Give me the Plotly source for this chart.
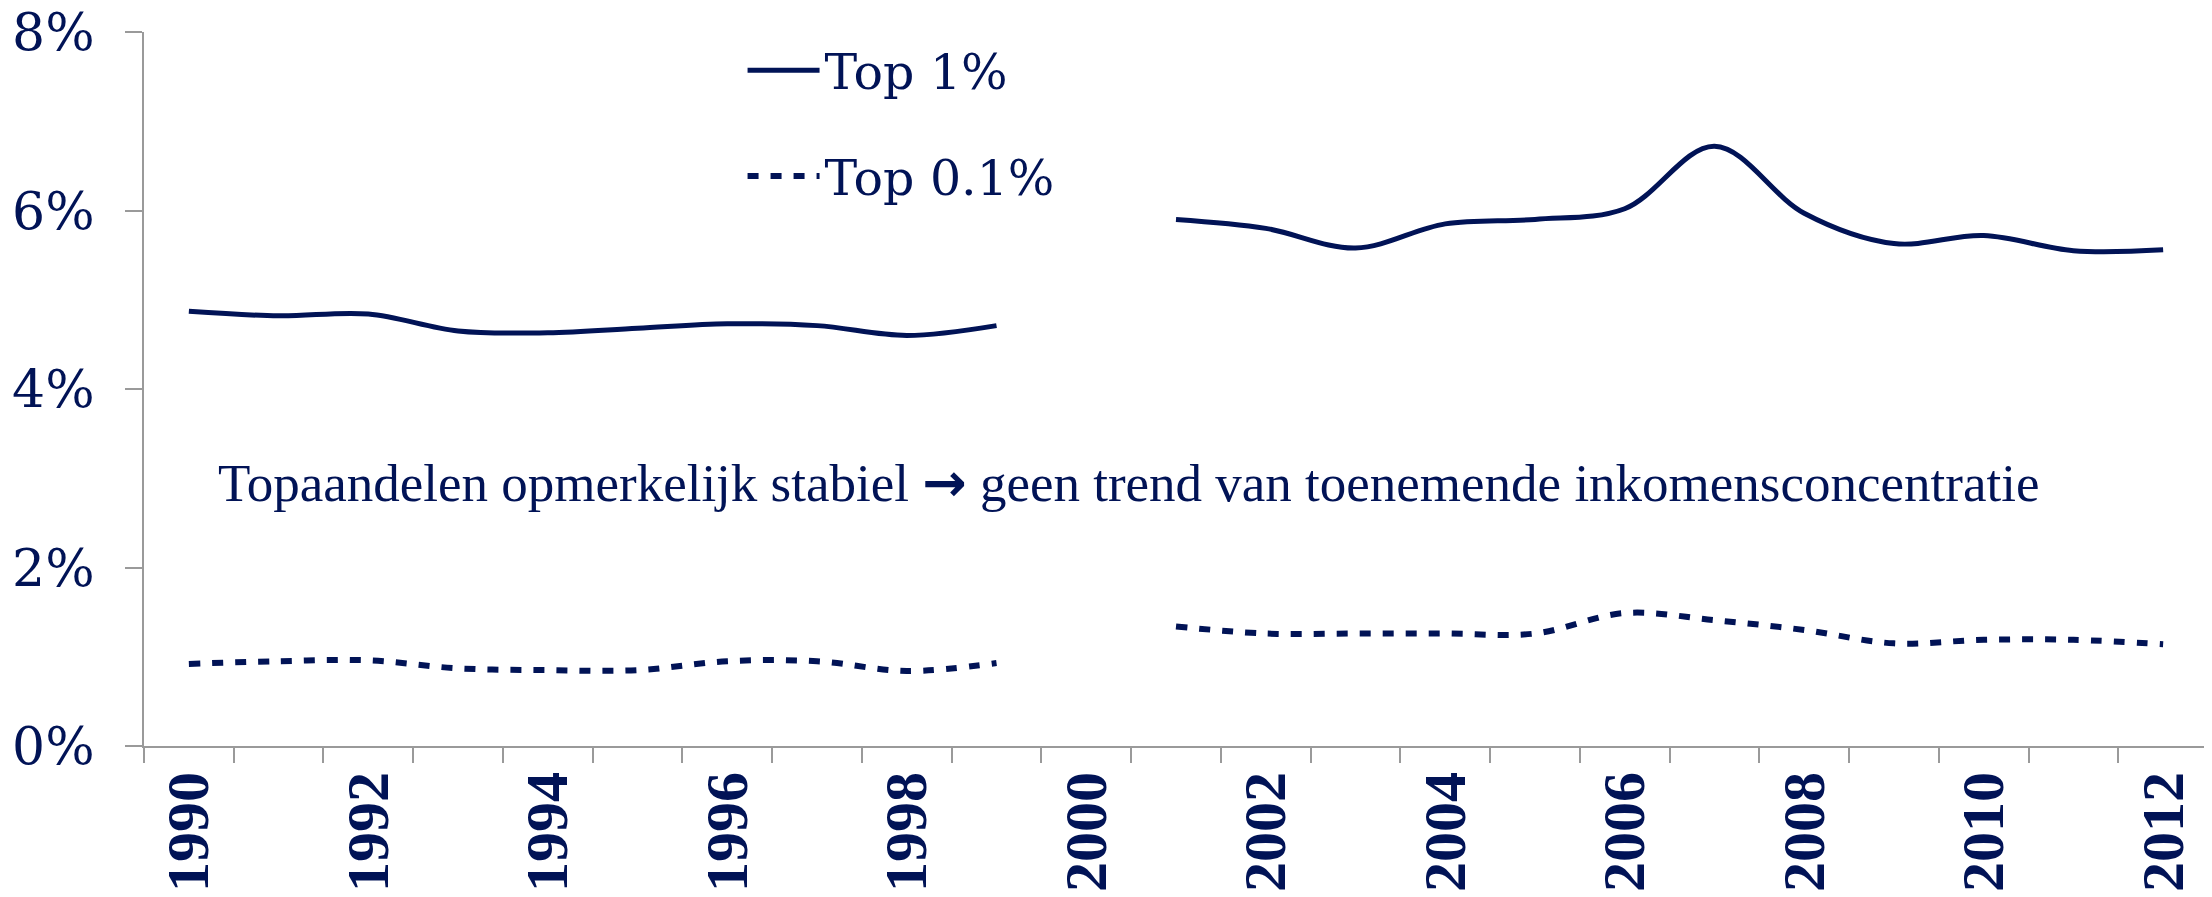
import plotly.graph_objects as go

# ── Data ───────────────────────────────────────────────
years = list(range(1990, 2013))
top1 = [4.87, 4.82, 4.84, 4.65, 4.63, 4.68, 4.73, 4.71, 4.60, 4.71, None,
        5.90, 5.80, 5.58, 5.85, 5.90, 6.02, 6.72, 5.97, 5.63, 5.72, 5.55, 5.56]
top01 = [0.92, 0.95, 0.96, 0.87, 0.85, 0.85, 0.95, 0.95, 0.84, 0.93, None,
         1.34, 1.26, 1.26, 1.26, 1.26, 1.49, 1.41, 1.30, 1.15, 1.19, 1.19, 1.14]
ytick_vals = [0, 2, 4, 6, 8]
ytick_text = ["0%", "2%", "4%", "6%", "8%"]
note = "Topaandelen opmerkelijk stabiel → geen trend van toenemende inkomensconcentratie"

NAVY = "#011356"
GREY = "#9a9a9a"
FONT = "DejaVu Serif"
NOTE_FONT = "Liberation Serif"

fig = go.Figure()
fig.add_trace(go.Scatter(x=years, y=top1, name="Top 1%", mode="lines",
                         line=dict(color=NAVY, width=5, shape="spline", smoothing=1),
                         connectgaps=False, legendgroup="a"))
fig.add_trace(go.Scatter(x=years, y=top01, name="Top 0.1%", mode="lines",
                         line=dict(color=NAVY, width=6, shape="spline", smoothing=1,
                                   dash="11px,12px"),
                         connectgaps=False, legendgroup="b"))

# heavier arrow glyph, as in the original slide
note_html = note.replace("→", "<span style=\"font-family:'DejaVu Sans';font-weight:bold\">→</span>")
fig.add_annotation(x=0.035, y=2.95, xref="paper", yref="y", text=note_html,
                   showarrow=False, xanchor="left", yanchor="middle",
                   font=dict(family=NOTE_FONT, size=53, color=NAVY))

# ticks on category boundaries, labels every other year
bounds = [y - 0.5 for y in years] + [years[-1] + 0.5]

# page body has an 8px margin, so the figure is drawn 8px smaller/offset
fig.update_layout(
    width=2204, height=889,
    margin=dict(l=136, r=4, t=24, b=151),
    plot_bgcolor="white", paper_bgcolor="white",
    font=dict(family=FONT, color=NAVY),
    showlegend=True,
    legend=dict(x=0.29, y=1.0, xanchor="left", yanchor="top",
                font=dict(family=FONT, size=49, color=NAVY),
                itemwidth=72, tracegroupgap=39, traceorder="grouped",
                bgcolor="rgba(0,0,0,0)"),
    xaxis=dict(range=[bounds[0], bounds[-1]], showgrid=False, zeroline=False,
               automargin=False,
               showline=True, linecolor=GREY, linewidth=2,
               tickvals=years[::2], ticktext=[str(y) for y in years[::2]],
               ticks="outside", ticklen=0, tickangle=-90, ticklabelstandoff=0,
               ticklabeloverflow="allow",
               tickfont=dict(family=NOTE_FONT, size=60, color=NAVY, weight="bold"),
               minor=dict(tickvals=bounds, ticks="outside", ticklen=15,
                          tickcolor=GREY, tickwidth=2)),
    yaxis=dict(range=[0, 8], showgrid=False, zeroline=False,
               automargin=False,
               showline=True, linecolor=GREY, linewidth=2,
               tickvals=ytick_vals, ticktext=ytick_text,
               ticks="outside", ticklen=17, tickcolor=GREY, tickwidth=2,
               ticklabelstandoff=20, ticklabeloverflow="allow",
               tickfont=dict(family=FONT, size=52, color=NAVY)),
)

fig.write_html("out.html")
